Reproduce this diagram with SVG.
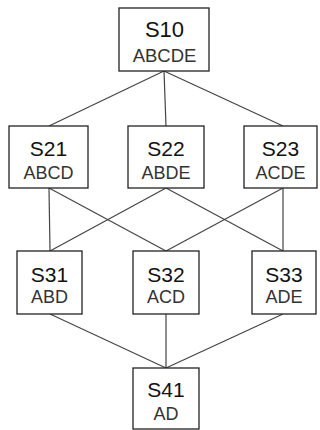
<svg xmlns="http://www.w3.org/2000/svg" width="320" height="430" viewBox="0 0 320 430">
<style>
.box{fill:#fff;stroke:#222;stroke-width:1.3}
.conn line{stroke:#444;stroke-width:1.2}
.t{font-family:"Liberation Sans",Arial,sans-serif;text-anchor:middle;fill:#111;font-size:21px}
.s{font-family:"Liberation Sans",Arial,sans-serif;text-anchor:middle;fill:#333;font-size:18px}
</style>
<rect width="320" height="430" fill="#fff"/>
<g class="conn">
<line x1="164" y1="71" x2="49" y2="126"/>
<line x1="164" y1="71" x2="166" y2="126"/>
<line x1="164" y1="71" x2="283" y2="126"/>
<line x1="49" y1="188" x2="50" y2="251"/>
<line x1="49" y1="188" x2="166" y2="251"/>
<line x1="166" y1="188" x2="50" y2="251"/>
<line x1="166" y1="188" x2="283" y2="251"/>
<line x1="283" y1="188" x2="166" y2="251"/>
<line x1="283" y1="188" x2="283" y2="251"/>
<line x1="50" y1="314" x2="166" y2="368"/>
<line x1="166" y1="314" x2="166" y2="368"/>
<line x1="283" y1="314" x2="166" y2="368"/>
</g>
<g id="S10"><rect class="box" x="119" y="8" width="90" height="63"/><text class="t" x="164.5" y="37" style="font-size:22px">S10</text><text class="s" x="164.5" y="62" style="font-size:18.5px">ABCDE</text></g>
<g id="S21"><rect class="box" x="9" y="126" width="79" height="62"/><text class="t" x="48.5" y="156">S21</text><text class="s" x="48.5" y="179">ABCD</text></g>
<g id="S22"><rect class="box" x="128" y="126" width="76" height="62"/><text class="t" x="166" y="156">S22</text><text class="s" x="166" y="179">ABDE</text></g>
<g id="S23"><rect class="box" x="244" y="126" width="73" height="62"/><text class="t" x="280.5" y="156">S23</text><text class="s" x="280.5" y="179">ACDE</text></g>
<g id="S31"><rect class="box" x="17" y="251" width="65" height="63"/><text class="t" x="49.5" y="282">S31</text><text class="s" x="49.5" y="303">ABD</text></g>
<g id="S32"><rect class="box" x="133" y="251" width="66" height="63"/><text class="t" x="166" y="282">S32</text><text class="s" x="166" y="303">ACD</text></g>
<g id="S33"><rect class="box" x="252" y="251" width="64" height="63"/><text class="t" x="284" y="282">S33</text><text class="s" x="284" y="303">ADE</text></g>
<g id="S41"><rect class="box" x="133" y="368" width="66" height="61"/><text class="t" x="166" y="397">S41</text><text class="s" x="166" y="420">AD</text></g>
</svg>
